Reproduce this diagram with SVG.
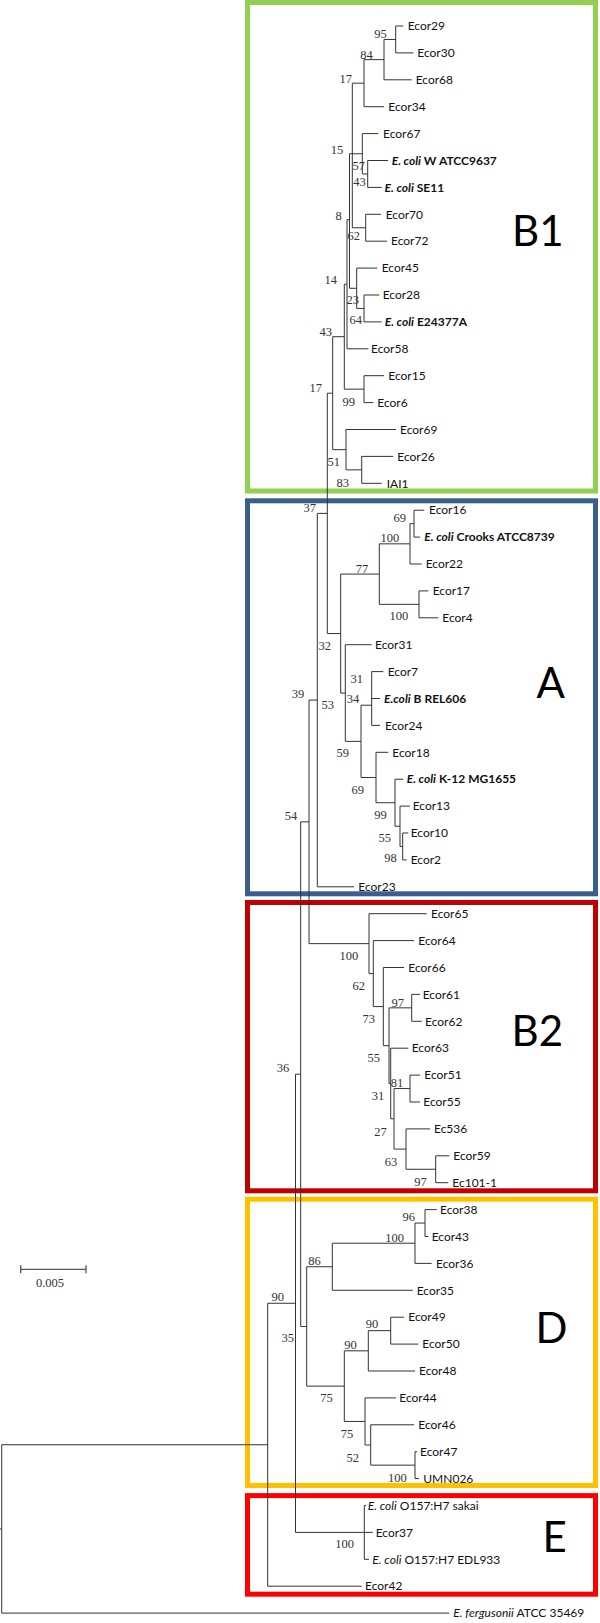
<svg xmlns="http://www.w3.org/2000/svg" width="600" height="1623" viewBox="0 0 600 1623">
<style>
.leaf{font-family:Lato,"Open Sans",sans-serif;font-size:12px;fill:#111}
.b{font-weight:bold}
.i{font-style:italic}
.bs{font-family:"Liberation Serif",serif;font-size:12.5px;fill:#333;text-anchor:end}
.clade{font-family:Lato,"Open Sans",sans-serif;font-size:42px;fill:#000}
.tree{fill:none;stroke:#333;stroke-width:1}
.box{fill:none;stroke-width:5}
</style>
<rect width="600" height="1623" fill="#fff"/>
<g id="clade-boxes">
<g id="box-B1"><rect class="box" x="247.5" y="2.5" width="348" height="488.5" stroke="#92D050"/><text class="clade" x="512" y="246">B1</text></g>
<g id="box-A"><rect class="box" x="247.5" y="500.8" width="348" height="393" stroke="#3A5F8D"/><text class="clade" x="536.5" y="698.3">A</text></g>
<g id="box-B2"><rect class="box" x="247.5" y="902.5" width="348" height="288.3" stroke="#C00000"/><text class="clade" x="511.5" y="1046">B2</text></g>
<g id="box-D"><rect class="box" x="247.5" y="1199.2" width="348" height="286.3" stroke="#FFC000"/><text class="clade" x="535.5" y="1343.3">D</text></g>
<g id="box-E"><rect class="box" x="247.5" y="1495.6" width="348" height="98.6" stroke="#FF0000"/><text class="clade" x="542.5" y="1551.7">E</text></g>
</g>
<g id="connectors" class="tree">
<path d="M395.7 26V52.9M395.7 26H403.3M395.7 52.9H413.3M384 39.45H395.7
M384 39.45V79.8M384 79.8H411.7M364 59.63H384
M364 59.63V106.7M364 106.7H384M352.3 83.16H364
M367.7 160.5V187.4M367.7 160.5H388M367.7 187.4H381.7M362.3 173.95H367.7
M362.3 133.6V173.95M362.3 133.6H378.3M349.5 153.78H362.3
M365.7 214.3V241.2M365.7 214.3H381M365.7 241.2H387M352.3 227.75H365.7
M352.3 83.16V227.75
M364 295V321.9M364 295H379.3M364 321.9H381.7M356.7 308.45H364
M356.7 268.1V308.45M356.7 268.1H377.3M349.5 288.28H356.7
M349.5 153.78V288.28
M347 219.7H349.5
M347 219.7V348.8M347 348.8H368.3
M344.3 284.25H347
M364 375.7V402.6M364 375.7H384M364 402.6H373.3M344.3 389.15H364
M344.3 284.25V389.15M332.7 336.7H344.3
M361.7 456.4V483.3M361.7 456.4H393.3M361.7 483.3H381.7M346 469.85H361.7
M346 429.5V469.85M346 429.5H396M332.7 449.68H346
M332.7 336.7V449.68M327.3 393.19H332.7"/>
<path d="M414 510.2V537.1M414 510.2H424.3M414 537.1H420M410 523.65H414
M410 523.65V564M410 564H421.7M379.3 543.83H410
M419 590.9V617.8M419 590.9H428.3M419 617.8H438.3M379.3 604.35H419
M379.3 543.83V604.35M340.7 574.09H379.3
M371.7 671.6V725.4M371.7 671.6H383.3M371.7 698.5H380M371.7 725.4H380M361 705.23H371.7
M402.7 833V859.9M402.7 833H408.3M402.7 859.9H406.7M400 846.45H402.7
M400 806.1V846.45M400 806.1H410M395 826.28H400
M395 779.2V826.28M395 779.2H403.3M376 802.74H395
M376 752.3V802.74M376 752.3H388.3M361 777.52H376
M361 705.23V777.52M345.3 741.37H361
M345.3 644.7V741.37M345.3 644.7H371.7M340.7 693.04H345.3
M340.7 574.09V693.04M327.3 633.56H340.7
M327.3 393.19V633.56M317.3 513.38H327.3
M317.3 513.38V886.8M317.3 886.8H354M309 700.09H317.3"/>
<path d="M411.7 994.4V1021.3M411.7 994.4H420M411.7 1021.3H421.7M389 1007.85H411.7
M410 1075.1V1102M410 1075.1H420M410 1102H420M394 1088.55H410
M435.7 1155.8V1182.7M435.7 1155.8H449.3M435.7 1182.7H448.3M406 1169.25H435.7
M406 1128.9V1169.25M406 1128.9H430M394 1149.08H406
M394 1088.55V1149.08M390.7 1118.81H394
M390.7 1048.2V1118.81M390.7 1048.2H408.3M389 1083.5H390.7
M389 1007.85V1083.5M383.3 1045.68H389
M383.3 967.5V1045.68M383.3 967.5H404M373.3 1006.59H383.3
M373.3 940.6V1006.59M373.3 940.6H414M369 973.6H373.3
M369 913.7V973.6M369 913.7H426.7M309 943.65H369
M309 700.09V943.65M300.7 821.87H309"/>
<path d="M425 1209.6V1236.5M425 1209.6H436.7M425 1236.5H428.3M415 1223.05H425
M415 1223.05V1263.4M415 1263.4H431.7M332.3 1243.23H415
M332.3 1243.23V1290.3M332.3 1290.3H412.7M306.7 1266.76H332.3
M390.7 1317.2V1344.1M390.7 1317.2H404M390.7 1344.1H418.3M368.3 1330.65H390.7
M368.3 1330.65V1371M368.3 1371H415M344.3 1350.83H368.3
M415 1451.7V1478.6M415 1451.7H417M415 1478.6H419M370.7 1465.15H415
M370.7 1424.8V1465.15M370.7 1424.8H414M365 1444.98H370.7
M365 1397.9V1444.98M365 1397.9H396M344.3 1421.44H365
M344.3 1350.83V1421.44M306.7 1386.13H344.3
M306.7 1266.76V1386.13M300.7 1326.45H306.7
M300.7 821.87V1326.45M295.5 1074.16H300.7"/>
<path d="M364.3 1505.5V1559.3M364.3 1505.5H366M295.5 1532.4H372.7M364.3 1559.3H369
M295.5 1074.16V1532.4M267.7 1303.28H295.5
M267.7 1303.28V1586.2M267.7 1586.2H361.7M1.7 1444.74H267.7
M1.7 1444.74V1613.1M1.7 1613.1H449.3M0 1528.9H1.7"/>
</g>
<g id="leaves" class="leaf">
<g id="n-Ecor29"><text x="407.7" y="30.2">Ecor29</text></g>
<g id="n-Ecor30"><text x="417.3" y="57.1">Ecor30</text></g>
<g id="n-Ecor68"><text x="415.7" y="84">Ecor68</text></g>
<g id="n-Ecor34"><text x="388.3" y="110.9">Ecor34</text></g>
<g id="n-Ecor67"><text x="383" y="137.8">Ecor67</text></g>
<g id="n-W"><text class="b" x="391.7" y="164.7"><tspan class="i">E. coli</tspan> W ATCC9637</text></g>
<g id="n-SE11"><text class="b" x="384.5" y="191.6"><tspan class="i">E. coli</tspan> SE11</text></g>
<g id="n-Ecor70"><text x="385.7" y="218.5">Ecor70</text></g>
<g id="n-Ecor72"><text x="391" y="245.4">Ecor72</text></g>
<g id="n-Ecor45"><text x="381.7" y="272.3">Ecor45</text></g>
<g id="n-Ecor28"><text x="382.7" y="299.2">Ecor28</text></g>
<g id="n-E24377A"><text class="b" x="384.7" y="326.1"><tspan class="i">E. coli</tspan> E24377A</text></g>
<g id="n-Ecor58"><text x="371" y="353">Ecor58</text></g>
<g id="n-Ecor15"><text x="388.3" y="379.9">Ecor15</text></g>
<g id="n-Ecor6"><text x="377.3" y="406.8">Ecor6</text></g>
<g id="n-Ecor69"><text x="400" y="433.7">Ecor69</text></g>
<g id="n-Ecor26"><text x="397.3" y="460.6">Ecor26</text></g>
<g id="n-IAI1"><text x="386.7" y="487.5">IAI1</text></g>
<g id="n-Ecor16"><text x="429" y="514.4">Ecor16</text></g>
<g id="n-Crooks"><text class="b" x="424.3" y="541.3"><tspan class="i">E. coli</tspan> Crooks ATCC8739</text></g>
<g id="n-Ecor22"><text x="425.7" y="568.2">Ecor22</text></g>
<g id="n-Ecor17"><text x="432.7" y="595.1">Ecor17</text></g>
<g id="n-Ecor4"><text x="442.3" y="622">Ecor4</text></g>
<g id="n-Ecor31"><text x="375" y="648.9">Ecor31</text></g>
<g id="n-Ecor7"><text x="387.7" y="675.8">Ecor7</text></g>
<g id="n-BREL606"><text class="b" x="384" y="702.7"><tspan class="i">E.coli</tspan> B REL606</text></g>
<g id="n-Ecor24"><text x="385" y="729.6">Ecor24</text></g>
<g id="n-Ecor18"><text x="392.3" y="756.5">Ecor18</text></g>
<g id="n-K12"><text class="b" x="406.7" y="783.4"><tspan class="i">E. coli</tspan> K-12 MG1655</text></g>
<g id="n-Ecor13"><text x="412.7" y="810.3">Ecor13</text></g>
<g id="n-Ecor10"><text x="410.7" y="837.2">Ecor10</text></g>
<g id="n-Ecor2"><text x="410.7" y="864.1">Ecor2</text></g>
<g id="n-Ecor23"><text x="358.3" y="891">Ecor23</text></g>
<g id="n-Ecor65"><text x="431" y="917.9">Ecor65</text></g>
<g id="n-Ecor64"><text x="418.3" y="944.8">Ecor64</text></g>
<g id="n-Ecor66"><text x="408.3" y="971.7">Ecor66</text></g>
<g id="n-Ecor61"><text x="422.7" y="998.6">Ecor61</text></g>
<g id="n-Ecor62"><text x="425" y="1025.5">Ecor62</text></g>
<g id="n-Ecor63"><text x="411.7" y="1052.4">Ecor63</text></g>
<g id="n-Ecor51"><text x="424.3" y="1079.3">Ecor51</text></g>
<g id="n-Ecor55"><text x="423.3" y="1106.2">Ecor55</text></g>
<g id="n-Ec536"><text x="434" y="1133.1">Ec536</text></g>
<g id="n-Ecor59"><text x="453.3" y="1160">Ecor59</text></g>
<g id="n-Ec101-1"><text x="452.3" y="1186.9">Ec101-1</text></g>
<g id="n-Ecor38"><text x="440" y="1213.8">Ecor38</text></g>
<g id="n-Ecor43"><text x="431.7" y="1240.7">Ecor43</text></g>
<g id="n-Ecor36"><text x="436" y="1267.6">Ecor36</text></g>
<g id="n-Ecor35"><text x="416.7" y="1294.5">Ecor35</text></g>
<g id="n-Ecor49"><text x="408.3" y="1321.4">Ecor49</text></g>
<g id="n-Ecor50"><text x="422.3" y="1348.3">Ecor50</text></g>
<g id="n-Ecor48"><text x="419" y="1375.2">Ecor48</text></g>
<g id="n-Ecor44"><text x="399.3" y="1402.1">Ecor44</text></g>
<g id="n-Ecor46"><text x="418.3" y="1429">Ecor46</text></g>
<g id="n-Ecor47"><text x="420" y="1455.9">Ecor47</text></g>
<g id="n-UMN026"><text x="423.3" y="1482.8">UMN026</text></g>
<g id="n-sakai"><text x="367.7" y="1509.7"><tspan class="i">E. coli</tspan> O157:H7 sakai</text></g>
<g id="n-Ecor37"><text x="375.7" y="1536.6">Ecor37</text></g>
<g id="n-EDL933"><text x="372.3" y="1563.5"><tspan class="i">E. coli</tspan> O157:H7 EDL933</text></g>
<g id="n-Ecor42"><text x="365" y="1590.4">Ecor42</text></g>
<g id="n-fergusonii"><text x="453.3" y="1617.3"><tspan class="i">E. fergusonii</tspan> ATCC 35469</text></g>
</g>
<g id="bootstrap" class="bs">
<text x="386.7" y="37.5">95</text>
<text x="372.7" y="59">84</text>
<text x="352" y="83">17</text>
<text x="343.3" y="153.5">15</text>
<text x="365" y="169.7">57</text>
<text x="365.7" y="186.3">43</text>
<text x="341.7" y="220.3">8</text>
<text x="360" y="240">62</text>
<text x="337" y="283.5">14</text>
<text x="359" y="304">23</text>
<text x="362" y="324">64</text>
<text x="332" y="335.7">43</text>
<text x="355" y="405.7">99</text>
<text x="322" y="391.7">17</text>
<text x="340" y="465.7">51</text>
<text x="349" y="486.7">83</text>
<text x="316" y="511.7">37</text>
<text x="406" y="521.7">69</text>
<text x="399.3" y="541.7">100</text>
<text x="368.3" y="573.3">77</text>
<text x="408.3" y="620">100</text>
<text x="331" y="650">32</text>
<text x="363" y="683.3">31</text>
<text x="304.3" y="698.3">39</text>
<text x="334" y="709">53</text>
<text x="359.3" y="703.3">34</text>
<text x="349" y="757.3">59</text>
<text x="364" y="794">69</text>
<text x="386.7" y="819">99</text>
<text x="297.3" y="820">54</text>
<text x="391" y="842.3">55</text>
<text x="396.7" y="862.3">98</text>
<text x="358.3" y="959.7">100</text>
<text x="365" y="989.7">62</text>
<text x="404" y="1006.7">97</text>
<text x="375" y="1023.3">73</text>
<text x="380" y="1062.3">55</text>
<text x="289.3" y="1072.3">36</text>
<text x="403.3" y="1087.3">81</text>
<text x="384.3" y="1100">31</text>
<text x="386.7" y="1135.7">27</text>
<text x="397.3" y="1165.7">63</text>
<text x="426.7" y="1185.7">97</text>
<text x="415" y="1221.3">96</text>
<text x="404" y="1241.7">100</text>
<text x="320.7" y="1265">86</text>
<text x="284" y="1301.3">90</text>
<text x="378.3" y="1328.3">90</text>
<text x="294" y="1342.3">35</text>
<text x="356.7" y="1349">90</text>
<text x="332.7" y="1402.3">75</text>
<text x="353.3" y="1438">75</text>
<text x="359" y="1462.3">52</text>
<text x="406.7" y="1481.7">100</text>
<text x="354" y="1548.3">100</text>
</g>
<g id="scale-bar">
<path d="M20.7 1269.3H86M20.7 1265.3V1273.3M86 1265.3V1273.3" fill="none" stroke="#555" stroke-width="1.3"/>
<text x="50" y="1287" text-anchor="middle" font-family="Liberation Serif, serif" font-size="12.5" fill="#333">0.005</text>
</g>
</svg>
